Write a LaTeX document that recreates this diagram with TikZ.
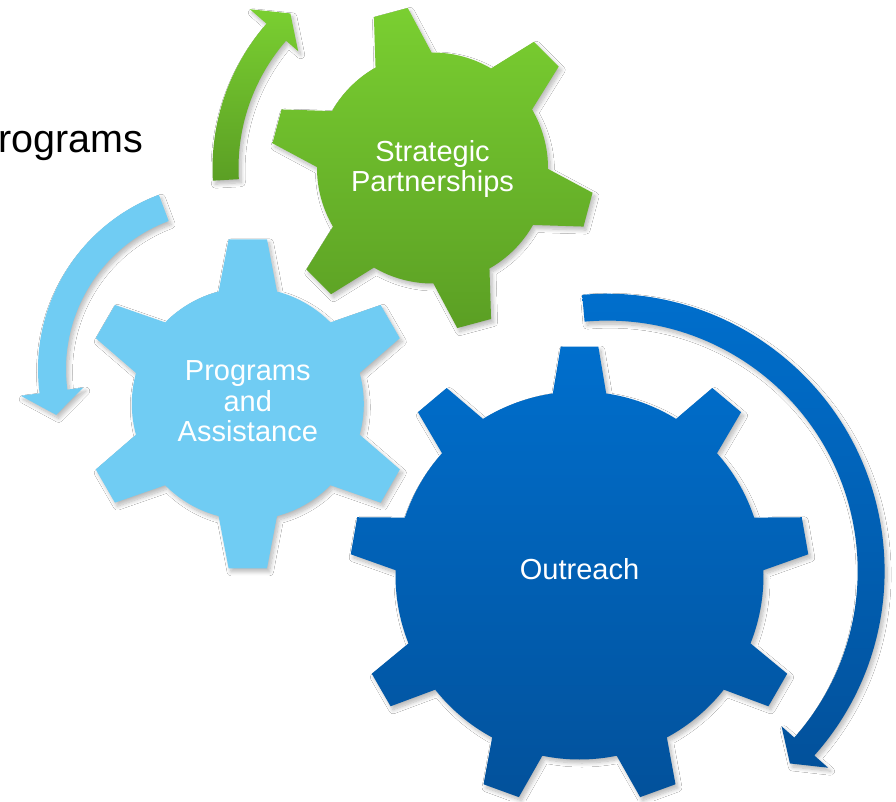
\documentclass[tikz,border=0pt]{standalone}
\usepackage{fontspec}
\setmainfont{Liberation Sans}
\usetikzlibrary{shadows.blur}
\definecolor{gTop}{HTML}{7ACF31}
\definecolor{gBot}{HTML}{5B9F24}
\definecolor{bTop}{HTML}{006FCD}
\definecolor{bBot}{HTML}{02519B}
\definecolor{lBlue}{HTML}{70CCF3}
\tikzset{
  softshadow/.style={blur shadow={shadow xshift=2.5pt,shadow yshift=-3.5pt,shadow blur radius=4pt,shadow blur steps=8,shadow opacity=28}},
  greenshape/.style={softshadow,top color=gTop,bottom color=gBot},
  blueshape/.style={softshadow,top color=bTop,bottom color=bBot},
  lightshape/.style={softshadow,fill=lBlue},
  geartext/.style={text=white,font=\fontsize{29}{30.5}\selectfont,align=center,inner sep=0pt},
}
% gear: {cx}{cy}{body r}{tip R}{teeth}{start angle}{base half width}{tip half width}{style}
\newcommand\mkgear[9]{%
  \pgfmathsetmacro\gstep{360/#5}%
  \pgfmathsetmacro\gdb{asin(#7/#3)}%
  \pgfmathsetmacro\gdt{atan(#8/#4)}%
  \pgfmathsetmacro\gRt{veclen(#4,#8)}%
  \pgfmathtruncatemacro\glast{#5-1}%
  \begin{scope}[shift={(#1,#2)}]
  \path[#9] ({#6-\gdb}:#3)
    \foreach \k [evaluate=\k as \a using {#6+\k*\gstep}] in {0,...,\glast} {
      -- ({\a-\gdt}:\gRt) -- ({\a+\gdt}:\gRt) -- ({\a+\gdb}:#3)
      arc[start angle={\a+\gdb}, end angle={\a+\gstep-\gdb}, radius=#3]
    } -- cycle;
  \end{scope}%
}
\begin{document}
\begin{tikzpicture}[x=1pt,y=-1pt]
\useasboundingbox (0,0) rectangle (896,801);
\fill[white] (0,0) rectangle (896,801);

% gears
\mkgear{432.5}{168}{115.5}{161}{6}{-105}{29}{17.5}{greenshape}
\mkgear{247.8}{403.8}{116}{164.5}{6}{-90}{29.2}{19.2}{lightshape}
\mkgear{579.5}{575.5}{184}{229}{9}{-90}{26.7}{18.8}{blueshape}

% green arrow
\begin{scope}[shift={(432.5,168)}]
\path[greenshape] (176.7:194) arc[start angle=176.7, end angle=221, radius=194]
  -- (221:178) -- (227.4:210) -- (221:242) -- (221:220)
  arc[start angle=221, end angle=176.7, radius=220] -- cycle;
\end{scope}

% light blue arrow
\begin{scope}[shift={(224,369)}]
\path[lightshape] (249.5:158) arc[start angle=249.5, end angle=172.5, radius=158]
  -- (172.5:142) -- (164.7:174) -- (172.5:205) -- (172.5:186)
  arc[start angle=172.5, end angle=249.5, radius=186] -- cycle;
\end{scope}

% dark blue arrow
\begin{scope}[shift={(607.3,571)}]
\path[blueshape] (-95.2:250.4) arc[start angle=-95.2, end angle=41.7, radius=250.4]
  -- (41.7:233.4) -- (46.5:265.3) -- (41.7:295.7) -- (41.7:277.3)
  arc[start angle=41.7, end angle=-95.2, radius=277.3] -- cycle;
\end{scope}

% texts
\node[geartext] (sp) at (432.5,169) {Strategic\\Partnerships};
\node[geartext] (pa) at (247.8,401.5) {Programs\\and\\Assistance};
\node[geartext] (out) at (579.5,569.5) {Outreach};
\node[anchor=base west,inner sep=0pt,font=\fontsize{39.5}{41}\selectfont] (title) at (-1.5,152) {rograms};
\end{tikzpicture}
\end{document}
